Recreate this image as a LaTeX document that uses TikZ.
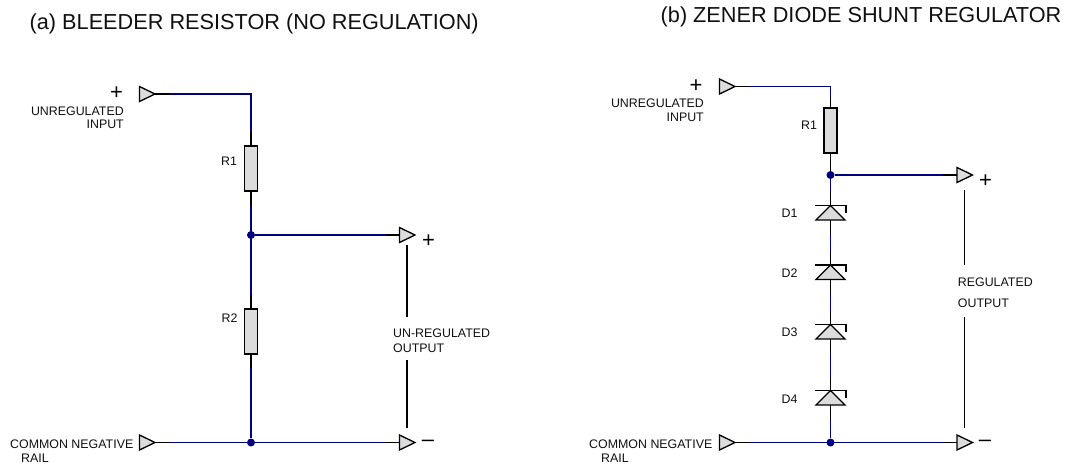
\documentclass[tikz,border=0pt]{standalone}
\usepackage{fontspec}
\setmainfont{Liberation Sans}
\usetikzlibrary{shapes.geometric}
\definecolor{wireblue}{HTML}{000080}
\definecolor{partgray}{HTML}{DCDCDC}
\definecolor{inktext}{HTML}{101010}
\tikzset{
  wire/.style={draw=wireblue,line width=1.2pt},
  stub/.style={draw=black,line width=1.2pt},
  res/.style={draw=black,fill=partgray,line width=1.3pt,rectangle,minimum width=13pt,minimum height=45pt,inner sep=0pt,outer sep=0pt},
  port/.style={draw=black,fill=partgray,line width=1.3pt,isosceles triangle,isosceles triangle stretches,minimum width=15pt,minimum height=15.5pt,inner sep=0pt,outer sep=0pt,anchor=apex},
  zen/.style={draw=black,fill=partgray,line width=1.3pt,isosceles triangle,isosceles triangle stretches,shape border rotate=90,minimum width=29pt,minimum height=14.5pt,inner sep=0pt,outer sep=0pt,anchor=apex},
  dot/.style={circle,fill=wireblue,inner sep=0pt,minimum size=8pt},
  lab/.style={font=\fontsize{12.4}{14}\selectfont,text=inktext,inner sep=0pt},
  sign/.style={font=\fontsize{22}{22}\selectfont,text=black,inner sep=0pt},
  ttl/.style={font=\fontsize{21.7}{24}\selectfont,text=inktext,inner sep=0pt},
  vline/.style={draw=black,line width=1.2pt}
}
\newcommand{\zenbar}[1]{\draw[stub] ([xshift=-15.5pt]#1.apex) -- ([xshift=15.5pt]#1.apex) -- ++(0,7);}
\begin{document}
\begin{tikzpicture}[x=1pt,y=-1pt]
\useasboundingbox (0,0) rectangle (1067,466);
% titles
\node[ttl,anchor=west] (ta) at (29.5,24.2) {(a) BLEEDER RESISTOR (NO REGULATION)};
\node[ttl,anchor=west] (tb) at (660.5,17.2) {(b) ZENER DIODE SHUNT REGULATOR};

% ---- circuit (a)
\node[port] (ain) at (155,94) {};
\coordinate (acorner) at (251,94);
\node[res] (r1a) at (251,168.5) {};
\node[res] (r2a) at (251,331.5) {};
\node[dot] (ja) at (251,235) {};
\node[dot] (jb) at (251,442.5) {};
\node[port] (aout) at (415,235) {};
\node[port] (acom) at (155,442.5) {};
\node[port] (aneg) at (415,442.5) {};
\draw[wire] (ain.apex) -- (acorner) -- (r1a.north);
\draw[wire] (r1a.south) -- (r2a.north);
\draw[wire] (r2a.south) -- (jb);
\draw[wire] (ja) -- (aout.lower side);
\draw[wire] (acom.apex) -- (aneg.lower side);
\draw[stub] (ain.apex) -- ++(14,0);
\draw[stub] (r1a.north) -- ++(0,-14);
\draw[stub] (r1a.south) -- ++(0,14);
\draw[stub] (r2a.north) -- ++(0,-14);
\draw[stub] (r2a.south) -- ++(0,14);
\draw[stub] (aout.lower side) -- ++(-14,0);
\draw[stub] (acom.apex) -- ++(14,0);
\draw[stub] (aneg.lower side) -- ++(-14,0);
\node[sign] (pa1) at (116.5,93.5) {+};
\node[lab,align=right,anchor=north east] (ua) at (124,106.5) {UNREGULATED\\[-0.8pt]INPUT\hspace{7.5pt}};
\node[lab] (lr1a) at (229,161.7) {R1};
\node[lab] (lr2a) at (229.5,318.3) {R2};
\node[sign] (pa2) at (428.5,241.5) {+};
\node[lab,align=left,anchor=north west] (ula) at (393,329) {UN-REGULATED\\[0.4pt]OUTPUT};
\node[lab,align=left,anchor=north west] (ca) at (10,440) {COMMON NEGATIVE\\[-0.5pt]\hspace{11pt}RAIL};
\node[sign] (ma) at (428,443.5) {--};
\coordinate (va1) at (407,245);
\coordinate (va2) at (407,317);
\coordinate (va3) at (407,360);
\coordinate (va4) at (407,428);
\draw[vline] (va1) -- (va2);
\draw[vline] (va3) -- (va4);

% ---- circuit (b)
\node[port] (bin) at (735,86.5) {};
\coordinate (bcorner) at (830.5,86.5);
\node[res] (r1b) at (830.5,130.5) {};
\node[dot] (jc) at (830.5,175) {};
\node[port] (bout) at (972.5,175) {};
\node[zen] (d1) at (830.5,205.5) {};
\node[zen] (d2) at (830.5,265) {};
\node[zen] (d3) at (830.5,324.5) {};
\node[zen] (d4) at (830.5,390.5) {};
\node[dot] (jd) at (830.5,442.5) {};
\node[port] (bcom) at (735,442.5) {};
\node[port] (bneg) at (972.5,442.5) {};
\draw[wire] (bin.apex) -- (bcorner) -- (r1b.north);
\draw[wire] (r1b.south) -- (d1.apex);
\draw[wire] (jc) -- (bout.lower side);
\draw[wire] (d1.lower side) -- (d2.apex);
\draw[wire] (d2.lower side) -- (d3.apex);
\draw[wire] (d3.lower side) -- (d4.apex);
\draw[wire] (d4.lower side) -- (jd);
\draw[wire] (bcom.apex) -- (bneg.lower side);
\draw[stub] (bin.apex) -- ++(14,0);
\draw[stub] (r1b.north) -- ++(0,-11);
\draw[stub] (r1b.south) -- (jc);
\draw[stub] (bout.lower side) -- ++(-14,0);
\draw[stub] (bcom.apex) -- ++(14,0);
\draw[stub] (bneg.lower side) -- ++(-14,0);
\foreach \d in {d1,d2,d3,d4}{
  \draw[stub] (\d.apex) -- ++(0,-14);
  \draw[stub] (\d.lower side) -- ++(0,14);
  \zenbar{\d}
}
\node[sign] (pb1) at (696,86) {+};
\node[lab,align=right,anchor=north east] (ub) at (704,98.5) {UNREGULATED\\[0.6pt]INPUT\hspace{8pt}};
\node[lab] (lr1b) at (809,125) {R1};
\node[lab] (ld1) at (789.5,213) {D1};
\node[lab] (ld2) at (789.5,273.3) {D2};
\node[lab] (ld3) at (789.5,332.7) {D3};
\node[lab] (ld4) at (789.5,399.3) {D4};
\node[sign] (pb2) at (985.5,181.5) {+};
\node[lab,align=left,anchor=north west] (ulb) at (957.7,277.5) {REGULATED\\[7.6pt]OUTPUT};
\node[lab,align=left,anchor=north west] (cb) at (589,440) {COMMON NEGATIVE\\[-0.5pt]\hspace{12pt}RAIL};
\node[sign] (mb) at (985,443.5) {--};
\coordinate (vb1) at (964.5,190);
\coordinate (vb2) at (964.5,265);
\coordinate (vb3) at (964.5,317);
\coordinate (vb4) at (964.5,428);
\draw[vline] (vb1) -- (vb2);
\draw[vline] (vb3) -- (vb4);
\end{tikzpicture}
\end{document}
